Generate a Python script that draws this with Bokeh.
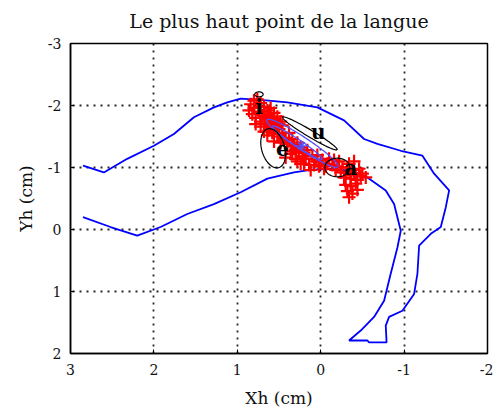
import numpy as np
from bokeh.plotting import figure
from bokeh.models import Range1d, FixedTicker, PrintfTickFormatter, Title
from bokeh.core.properties import value
from bokeh.embed import file_html
from bokeh.resources import INLINE

# Tongue contour (blue)
contour_x = [2.85, 2.60, 2.32, 2.00, 1.76, 1.52, 1.28, 1.12, 0.96, 0.72, 0.40, 0.04, -0.28, -0.52,
             -0.68, -0.96, -1.22, -1.36, -1.54, -1.50, -1.44, -1.32, -1.18, -1.16, -1.12, -0.98,
             -0.82, -0.78, -0.79, -0.58, -0.56, -0.34, -0.48, -0.64, -0.76, -0.84, -0.92, -0.96,
             -0.88, -0.78, -0.56, -0.36, -0.08, 0.12, 0.32, 0.64, 0.96, 1.28, 1.60, 1.92, 2.20,
             2.52, 2.85]
contour_y = [-1.03, -0.92, -1.14, -1.35, -1.54, -1.81, -1.97, -2.05, -2.11, -2.09, -2.05, -1.97,
             -1.76, -1.46, -1.38, -1.27, -1.19, -0.90, -0.63, -0.36, -0.04, 0.07, 0.26, 0.71,
             1.04, 1.31, 1.41, 1.55, 1.82, 1.82, 1.79, 1.79, 1.63, 1.41, 1.15, 0.71, 0.29, 0.02,
             -0.41, -0.63, -0.84, -0.95, -0.98, -0.96, -0.92, -0.82, -0.60, -0.41, -0.25, -0.04,
             0.10, -0.04, -0.20]

# Highest tongue points (red +)
pts_x = [0.84, 0.80, 0.76, 0.72, 0.68, 0.64, 0.60, 0.56, 0.86, 0.82, 0.78, 0.74, 0.70, 0.66,
         0.62, 0.58, 0.52, 0.48, 0.78, 0.72, 0.66, 0.60, 0.54, 0.50, 0.46,
         0.68, 0.64, 0.58, 0.52, 0.46, 0.42, 0.38, 0.34, 0.56, 0.48, 0.40, 0.34, 0.28, 0.30,
         0.24, 0.20, 0.36, 0.42, 0.30, 0.24, 0.18, 0.14, 0.10, 0.06, 0.02, 0.12, -0.02, -0.06,
         0.04, 0.16,
         -0.10, -0.14, -0.18, -0.22, -0.26, -0.30, -0.34, -0.38, -0.42, -0.46, -0.50, -0.54,
         -0.28, -0.36, -0.44, -0.40,
         -0.30, -0.36, -0.42, -0.32, -0.38, -0.44, -0.34,
         0.80, 0.74, 0.68, 0.64, 0.56, 0.50, 0.62, 0.56, 0.50, 0.44, 0.38, 0.32, 0.26, 0.22,
         0.34, 0.28, 0.20, 0.08, 0.00, -0.04, -0.08, -0.16, -0.20, -0.24, -0.32, -0.40, -0.48,
         -0.36, 0.72, 0.60]
pts_y = [-2.02, -2.08, -2.10, -2.04, -1.98, -1.92, -1.96, -1.88, -1.92, -1.86, -1.80, -1.90,
         -1.84, -1.78, -1.84, -1.76, -1.82, -1.74, -1.70, -1.66, -1.70, -1.64, -1.68, -1.62,
         -1.68,
         -1.58, -1.52, -1.56, -1.50, -1.56, -1.48, -1.56, -1.46, -1.42, -1.40, -1.38, -1.34,
         -1.40, -1.28, -1.32, -1.24, -1.22, -1.16, -1.14, -1.06, -1.14, -1.04, -1.18, -1.10,
         -1.02, -0.96, -1.12, -1.02, -1.20, -1.28,
         -1.14, -1.04, -0.96, -1.10, -1.00, -0.92, -1.06, -0.96, -0.88, -0.98, -0.90, -0.84,
         -0.84, -0.82, -0.80, -1.10,
         -0.72, -0.70, -0.74, -0.62, -0.58, -0.64, -0.52,
         -1.96, -1.98, -1.90, -1.74, -1.72, -1.70, -1.60, -1.62, -1.54, -1.44, -1.44, -1.36,
         -1.24, -1.18, -1.26, -1.10, -1.06, -1.04, -1.08, -0.98, -1.06, -1.12, -1.02, -0.92,
         -1.00, -0.90, -0.86, -0.88, -1.74, -1.80]

# Vowel labels
vowels = ["i", "u", "e", "a"]
vowel_x = [0.74, 0.03, 0.46, -0.36]
vowel_y = [-1.98, -1.57, -1.31, -0.99]

# Dispersion ellipses (black): centre, semi-axes, angle (deg, data space)
ell_cx = [0.74, 0.13, 0.57, -0.20]
ell_cy = [-2.18, -1.55, -1.31, -1.00]
ell_a = [0.05, 0.42, 0.14, 0.15]
ell_b = [0.04, 0.05, 0.32, 0.15]
ell_ang = [0, 141, 10, 30]

# Blue ellipses and mean
bell_cx = [0.22, 0.28]
bell_cy = [-1.39, -1.40]
bell_a = [0.57, 0.40]
bell_b = [0.09, 0.05]
bell_ang = [138, 138]
mean_x = [0.23]
mean_y = [-1.35]

x_ticks = [3, 2, 1, 0, -1, -2]
y_ticks = [-3, -2, -1, 0, 1, 2]

p = figure(width=493, height=414, output_backend="svg", toolbar_location=None,
           x_range=Range1d(3, -2), y_range=Range1d(2, -3),
           min_border_left=70, min_border_right=6, min_border_top=43, min_border_bottom=61)
p.title = None
p.add_layout(Title(text=" ", text_font_size="4px", standoff=0), "above")
p.add_layout(Title(text="Le plus haut point de la langue", text_font="DejaVu Serif",
                   text_font_size="19px", text_font_style="normal", align="center",
                   text_color="#111111"), "above")

p.outline_line_color = "black"
p.outline_line_width = 1.5
p.background_fill_color = "white"

for ax in (p.xaxis[0], p.yaxis[0]):
    ax.axis_line_color = "black"
    ax.axis_line_width = 1.5
    ax.major_tick_in = 4
    ax.major_tick_out = 0
    ax.minor_tick_line_color = None
    ax.major_label_text_font = "DejaVu Serif"
    ax.major_label_text_font_size = "14px"
    ax.major_label_text_color = "#111111"
    ax.major_label_standoff = 10
    ax.axis_label_text_font = "DejaVu Serif"
    ax.axis_label_text_font_size = "17px"
    ax.axis_label_text_font_style = "normal"
    ax.axis_label_text_color = "#111111"
    ax.axis_label_standoff = 10
    ax.formatter = PrintfTickFormatter(format="%d")
p.xaxis[0].ticker = FixedTicker(ticks=x_ticks)
p.yaxis[0].ticker = FixedTicker(ticks=y_ticks)
p.xaxis[0].axis_label = "Xh (cm)"
p.yaxis[0].axis_label = "Yh (cm)"
p.yaxis[0].major_label_orientation = "horizontal"
p.yaxis[0].major_label_standoff = 9
p.yaxis[0].axis_label_standoff = 9

p.grid.grid_line_color = "black"
p.grid.grid_line_dash = "2 5"
p.grid.grid_line_width = 1.8
p.grid.grid_line_alpha = 0.85

p.line(contour_x, contour_y, line_color="#0000ff", line_width=1.8)

p.scatter(pts_x, pts_y, marker="cross", size=13, line_color="#ff0000", line_width=2.2)

t = np.linspace(0, 2 * np.pi, 80)
for cx, cy, a, b, ang in zip(bell_cx, bell_cy, bell_a, bell_b, bell_ang):
    th = np.deg2rad(ang)
    ex = cx + a * np.cos(th) * np.cos(t) - b * np.sin(th) * np.sin(t)
    ey = cy + a * np.sin(th) * np.cos(t) + b * np.cos(th) * np.sin(t)
    p.line(ex, ey, line_color="#5050ff", line_width=1.3)
for cx, cy, a, b, ang in zip(ell_cx, ell_cy, ell_a, ell_b, ell_ang):
    th = np.deg2rad(ang)
    ex = cx + a * np.cos(th) * np.cos(t) - b * np.sin(th) * np.sin(t)
    ey = cy + a * np.sin(th) * np.cos(t) + b * np.cos(th) * np.sin(t)
    p.line(ex, ey, line_color="black", line_width=1.2)
p.scatter(mean_x, mean_y, marker="asterisk", size=10, line_color="#5050ff", line_width=1.3)

p.text(vowel_x, vowel_y, text=vowels, text_font=value("DejaVu Serif"), text_font_size="20px",
       text_font_style="bold", text_color="black", text_align="center", text_baseline="middle")

open("out.html", "w").write(file_html(p, INLINE))
